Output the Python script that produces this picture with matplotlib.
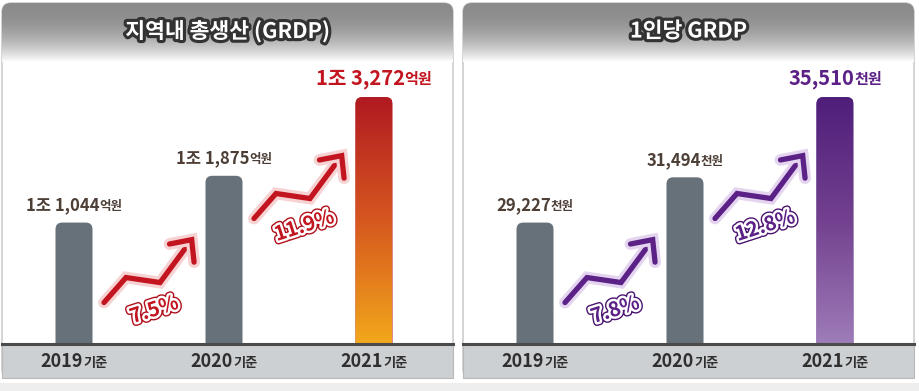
import numpy as np
import matplotlib
matplotlib.use("Agg")
import matplotlib.pyplot as plt
import matplotlib.patheffects as pe
import matplotlib.transforms as mtransforms
from matplotlib.patches import FancyBboxPatch, Rectangle, FancyArrowPatch
from matplotlib.path import Path
from matplotlib.colors import LinearSegmentedColormap
from matplotlib.offsetbox import TextArea, HPacker, AnnotationBbox

plt.rcParams['font.family'] = ['Noto Sans CJK KR', 'DejaVu Sans']

# data
years = ["2019", "2020", "2021"]
grdp = [11044, 11875, 13272]          # 억원
grdp_growth = ["7.5%", "11.9%"]
per_capita = [29227, 31494, 35510]    # 천원
per_capita_growth = ["7.8%", "12.8%"]

titles = ["지역내 총생산 (GRDP)", "1인당 GRDP"]

W, H = 920, 391
fig = plt.figure(figsize=(W / 100, H / 100), dpi=100)
fig.patch.set_facecolor("white")

# background layer in pixel units
bg = fig.add_axes([0, 0, 1, 1])
bg.set_xlim(0, W)
bg.set_ylim(H, 0)
bg.axis("off")
bg.add_patch(Rectangle((0, 383), W, 8, fc="#eeeeee", ec="none"))


def fmt_grdp(v):
    return f"{v // 10000}조 {v % 10000:,}", "억원"


def fmt_pc(v):
    return f"{v:,}", "천원"


panels = [
    dict(x0=2, vals=grdp, growth=grdp_growth, fmt=fmt_grdp, ylim=(8887, 13896),
         accent="#c3151f", halo="#f6d2d2", outer="#b0101a",
         grad=["#f2a81b", "#d6571f", "#b11a22"]),
    dict(x0=463, vals=per_capita, growth=per_capita_growth, fmt=fmt_pc, ylim=(23147, 37268),
         accent="#5b2186", halo="#e4d4ef", outer="#4a1470",
         grad=["#9e7cb9", "#73418f", "#4f1e7a"]),
]

PW = 451
TOP, HDR, BASE, FOOT = 3, 62, 344, 378
label_col = "#4d3f36"
year_col = "#2f2f2f"

for k, p in enumerate(panels):
    x0 = p["x0"]
    frame = FancyBboxPatch((x0, TOP), PW, FOOT - TOP,
                           boxstyle="round,pad=0,rounding_size=9",
                           fc="white", ec="#c4c4c4", lw=1.0, zorder=1)
    bg.add_patch(frame)
    # header gradient
    t = np.linspace(0, 1, 200) ** 2.2
    c0 = np.array([0x8b, 0x8b, 0x8b]) / 255
    grad = c0[None, :] * (1 - t[:, None]) + np.ones(3)[None, :] * t[:, None]
    im = bg.imshow(grad[:, None, :], extent=(x0, x0 + PW, HDR, TOP),
                   aspect="auto", origin="upper", zorder=2)
    im.set_clip_path(frame)
    # footer
    bg.add_patch(Rectangle((x0, BASE), PW, FOOT - BASE, fc="#cdd0d2",
                           ec="#b8b8b8", lw=0.8, zorder=2))
    bg.text(x0 + PW / 2, 31, titles[k], ha="center", va="center",
            fontsize=15.5, fontweight="heavy", color="white", zorder=4,
            path_effects=[pe.Stroke(linewidth=4.5, foreground="#333333"), pe.Normal()])

    # data axes
    ax = fig.add_axes([x0 / W, (H - BASE) / H, PW / W, (BASE - HDR) / H])
    ax.patch.set_alpha(0)
    ax.axis("off")
    lo, hi = p["ylim"]
    xlim = (-72 / 150, (PW - 72) / 150)
    ax.set_xlim(*xlim)
    ax.set_ylim(lo, hi)
    ypx = (hi - lo) / (BASE - HDR)
    aspect = ypx / (1 / 150)
    bw = 37 / 150
    below = lo - 0.2 * (hi - lo)

    for i, v in enumerate(p["vals"]):
        last = i == len(p["vals"]) - 1
        bar = FancyBboxPatch((i - bw / 2, below), bw, v - below,
                             boxstyle="round,pad=0,rounding_size=0.045",
                             mutation_aspect=aspect,
                             fc="#67717a" if not last else p["grad"][-1],
                             ec="none", zorder=2)
        ax.add_patch(bar)
        if last:
            cmap = LinearSegmentedColormap.from_list("g", p["grad"])
            gim = ax.imshow(np.linspace(0, 1, 256)[:, None], cmap=cmap,
                            extent=(i - bw / 2, i + bw / 2, lo, v),
                            origin="lower", aspect="auto", zorder=3)
            gim.set_clip_path(bar)

        main, unit = p["fmt"](v)
        col = p["accent"] if last else label_col
        fs = 14.5 if last else 12
        box = HPacker(children=[
            TextArea(main, textprops=dict(fontsize=fs, fontweight="bold", color=col)),
            TextArea(unit, textprops=dict(fontsize=fs * 0.75, fontweight="bold", color=col)),
        ], align="baseline", pad=0, sep=0)
        ax.add_artist(AnnotationBbox(box, (i, v), xycoords="data",
                                     xybox=(0, 6), boxcoords="offset points",
                                     box_alignment=(0.5, 0), frameon=False, pad=0,
                                     annotation_clip=False, zorder=5))

        ybox = HPacker(children=[
            TextArea(years[i], textprops=dict(fontsize=13, fontweight="bold", color=year_col)),
            TextArea("기준", textprops=dict(fontsize=9.5, fontweight="bold", color=year_col)),
        ], align="baseline", pad=0, sep=0)
        ax.add_artist(AnnotationBbox(ybox, (i, 0), xycoords=("data", "axes fraction"),
                                     xybox=(0, -17.5 * 0.72), boxcoords="offset points",
                                     box_alignment=(0.5, 0.5), frameon=False, pad=0,
                                     annotation_clip=False, zorder=5))

    ax.axhline(lo, color="#4b4b4b", lw=2.2, zorder=6, clip_on=False)
    ax.set_xlim(*xlim)
    ax.set_ylim(lo, hi)

    # growth arrows
    shape = np.array([(0, 0), (22, 25), (56, 20), (90, 66)]) / 100.0
    starts = [(0.2, 0.147), (1.2, 0.445)]
    for j, g in enumerate(p["growth"]):
        sx, sy = starts[j]
        trans = fig.dpi_scale_trans + mtransforms.ScaledTranslation(
            sx, sy, ax.get_xaxis_transform())
        arr = FancyArrowPatch(path=Path(shape), transform=trans,
                              arrowstyle="->,head_length=12,head_width=11",
                              mutation_scale=1, lw=3.8, color=p["accent"],
                              capstyle="round", joinstyle="miter",
                              shrinkA=0, shrinkB=0, zorder=4, clip_on=False)
        arr.set_path_effects([pe.Stroke(linewidth=8.5, foreground=p["halo"]), pe.Normal()])
        ax.add_patch(arr)
        ax.annotate(g, xy=(sx, sy), xycoords=ax.get_xaxis_transform(),
                    xytext=(50 * 0.72, -7 * 0.72), textcoords="offset points",
                    ha="center", va="center", rotation=18, rotation_mode="anchor",
                    fontsize=14.5, fontweight="heavy", color=p["accent"], zorder=5,
                    path_effects=[pe.Stroke(linewidth=5.5, foreground=p["outer"]),
                                  pe.Stroke(linewidth=3.5, foreground="white"),
                                  pe.Normal()])

fig.savefig("out.png", dpi=100)
